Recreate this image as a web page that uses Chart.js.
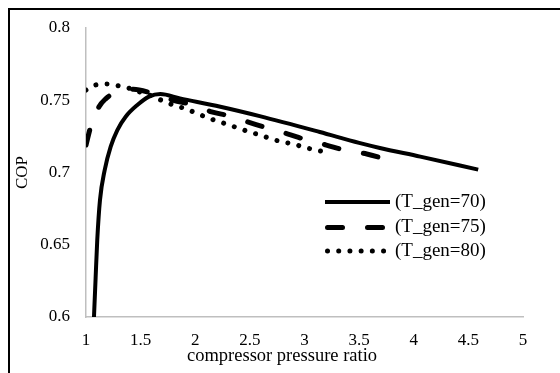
<!DOCTYPE html>
<html>
<head>
<meta charset="utf-8">
<script src="https://cdn.jsdelivr.net/npm/chart.js@4/dist/chart.umd.min.js"></script>
<style>
  html, body { margin: 0; padding: 0; background: #fff; }
  .wrap { width: 560px; height: 373px; position: relative; }
</style>
</head>
<body>
<div class="wrap"><canvas id="c" width="560" height="373"></canvas></div>
<script>
// ── Data ────────────────────────────────────────────────────────────────────
const x70 = [1.073, 1.088, 1.103, 1.128, 1.171, 1.226, 1.287, 1.363, 1.47, 1.577, 1.68, 1.86, 2.23, 2.59, 3.14, 3.5, 3.69, 4.06, 4.59]
const y70 = [0.600, 0.627, 0.6533, 0.681, 0.7017, 0.7179, 0.7294, 0.7386, 0.7467, 0.7525, 0.7543, 0.7513, 0.7455, 0.739, 0.728, 0.7205, 0.717, 0.711, 0.702]

const x75 = [1.0, 1.043, 1.119, 1.18, 1.256, 1.433, 1.607, 1.8, 1.97, 2.15, 2.32, 2.5, 2.67, 2.85, 3.02, 3.2, 3.39, 3.57, 3.75]
const y75 = [0.719, 0.7317, 0.7455, 0.751, 0.7548, 0.7576, 0.7548, 0.750, 0.747, 0.742, 0.739, 0.7345, 0.7306, 0.7266, 0.7225, 0.719, 0.715, 0.7128, 0.709]

const x80 = [1.0, 1.089, 1.19, 1.293, 1.394, 1.5, 1.6, 1.69, 1.79, 1.89, 2.0, 2.09, 2.19, 2.29, 2.39, 2.49, 2.59, 2.69, 2.79, 2.9, 3.0, 3.1, 3.2]
const y80 = [0.757, 0.7606, 0.7612, 0.760, 0.7583, 0.7555, 0.753, 0.750, 0.747, 0.7446, 0.7414, 0.7386, 0.7358, 0.7334, 0.7308, 0.7282, 0.726, 0.7234, 0.7213, 0.7197, 0.7174, 0.7156, 0.714]

const seriesLabels = ['(T_gen=70)', '(T_gen=75)', '(T_gen=80)']
const xTicks = [1, 1.5, 2, 2.5, 3, 3.5, 4, 4.5, 5]
const yTicks = [0.6, 0.65, 0.7, 0.75, 0.8]
const xTitle = 'compressor pressure ratio'
const yTitle = 'COP'

const FONT = "'Liberation Serif', 'Times New Roman', serif"
const pts = (xs, ys) => xs.map((x, i) => ({ x, y: ys[i] }))

// ── Extra drawing: frame, x title, legend ───────────────────────────────────
const decor = {
  id: 'decor',
  beforeDraw(chart) {
    const ctx = chart.ctx
    ctx.save()
    ctx.strokeStyle = '#000'
    ctx.lineWidth = 2
    ctx.strokeRect(9, 9, 600, 600)
    ctx.restore()
  },
  afterDraw(chart) {
    const ctx = chart.ctx
    ctx.save()
    ctx.fillStyle = '#000'
    ctx.font = `18.5px ${FONT}`
    ctx.textAlign = 'center'
    ctx.textBaseline = 'middle'
    ctx.fillText(xTitle, 282, 356)

    // legend
    const rows = [202, 227.5, 251]
    ctx.font = `19px ${FONT}`
    chart.data.datasets.forEach((ds, i) => {
      const y = rows[i]
      ctx.beginPath()
      ctx.strokeStyle = ds.borderColor
      ctx.lineWidth = ds.borderWidth
      ctx.lineCap = ds.borderCapStyle
      ctx.setLineDash(ds.borderDash || [])
      ctx.moveTo(ds.legendStart || 327.5, y)
      ctx.lineTo(390, y)
      ctx.stroke()
      ctx.setLineDash([])
      ctx.textAlign = 'left'
      ctx.fillText(ds.label, 395, y)
    })
    ctx.restore()
  }
}

new Chart(document.getElementById('c'), {
  type: 'scatter',
  data: {
    datasets: [
      {
        label: seriesLabels[0],
        data: pts(x70, y70),
        borderColor: '#000',
        borderWidth: 4,
        borderCapStyle: 'butt',
        legendStart: 325
      },
      {
        label: seriesLabels[1],
        data: pts(x75, y75),
        borderColor: '#000',
        borderWidth: 5,
        borderCapStyle: 'round',
        borderDash: [15, 25]
      },
      {
        label: seriesLabels[2],
        data: pts(x80, y80),
        borderColor: '#000',
        borderWidth: 5,
        borderCapStyle: 'round',
        borderDash: [0.01, 11.2]
      }
    ].map(ds => Object.assign(ds, {
      showLine: true,
      pointRadius: 0,
      pointHoverRadius: 0,
      cubicInterpolationMode: 'monotone',
      fill: false
    }))
  },
  options: {
    responsive: false,
    animation: false,
    events: [],
    layout: { padding: { top: 28, right: 37, left: 0, bottom: 0 } },
    plugins: { legend: { display: false }, tooltip: { enabled: false } },
    scales: {
      x: {
        type: 'linear',
        min: 1, max: 5,
        afterBuildTicks: s => { s.ticks = xTicks.map(v => ({ value: v })) },
        afterFit: s => { s.height = 56 },
        grid: { display: false, drawTicks: false },
        border: { display: true, color: '#bfbfbf', width: 1.5 },
        ticks: {
          color: '#000',
          font: { family: FONT, size: 17 },
          padding: 13,
          maxRotation: 0,
          autoSkip: false,
          callback: v => String(v)
        }
      },
      y: {
        type: 'linear',
        min: 0.6, max: 0.8,
        afterBuildTicks: s => { s.ticks = yTicks.map(v => ({ value: v })) },
        afterFit: s => { s.width = 86 },
        grid: { display: false, drawTicks: false },
        border: { display: true, color: '#bfbfbf', width: 1.5 },
        title: {
          display: true,
          text: yTitle,
          color: '#000',
          font: { family: FONT, size: 17 },
          padding: { top: 12, bottom: 0 }
        },
        ticks: {
          color: '#000',
          font: { family: FONT, size: 17 },
          padding: 16,
          autoSkip: false,
          callback: v => String(+v.toFixed(2))
        }
      }
    }
  },
  plugins: [decor]
})
</script>
</body>
</html>
